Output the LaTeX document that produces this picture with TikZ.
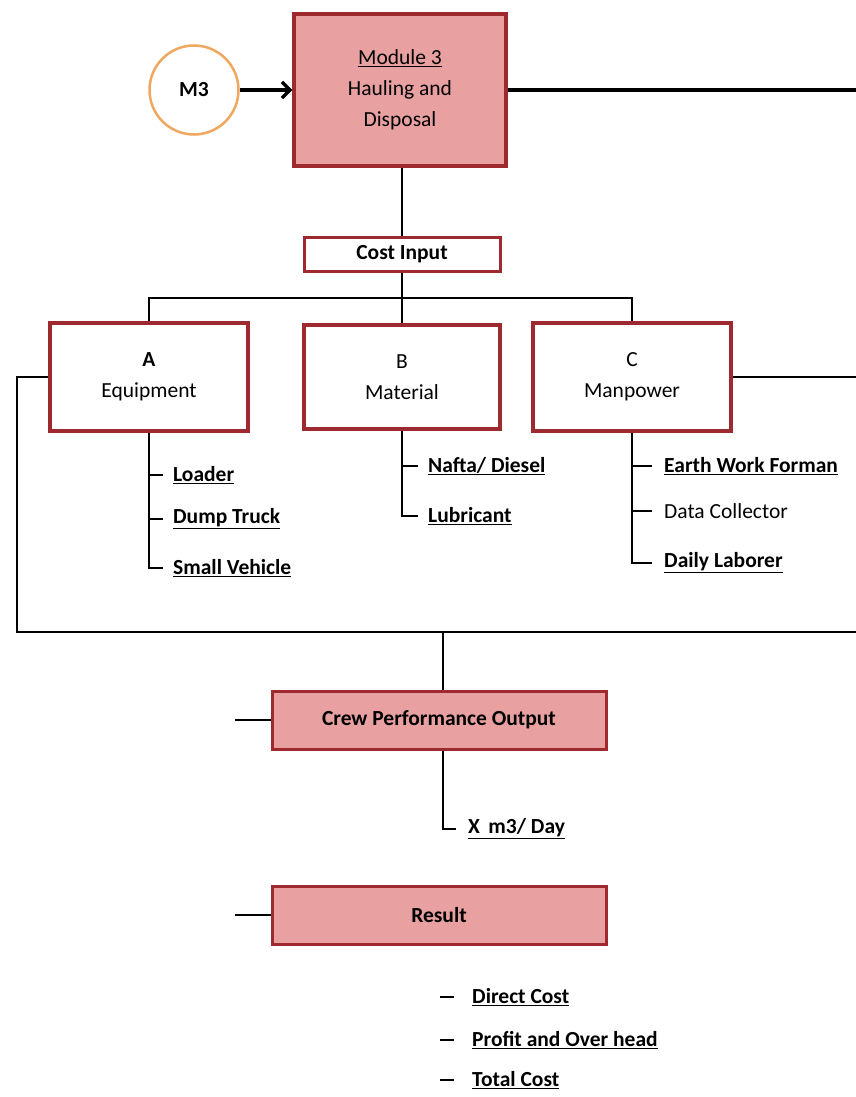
\documentclass[tikz,border=0pt]{standalone}
\usepackage{fontspec}
\setmainfont{Carlito}
\usetikzlibrary{arrows.meta,shapes.geometric}
\definecolor{boxfill}{HTML}{E8A0A0}
\definecolor{boxline}{HTML}{9E2A30}
\definecolor{circline}{HTML}{F0A860}
\newcommand{\fs}{\fontsize{21.5}{31}\selectfont}
\begin{document}
\begin{tikzpicture}[x=1pt,y=-1pt,
  redbox/.style={draw=boxline,line width=3.5pt,fill=boxfill,inner sep=0pt,align=center,font=\fs},
  whitebox/.style={draw=boxline,line width=3.5pt,fill=white,inner sep=0pt,align=center,font=\fs},
  item/.style={anchor=west,inner sep=0pt,font=\fs\bfseries},
  conn/.style={line width=1.3pt,draw=black},
]
\useasboundingbox (0,0) rectangle (856,1097);
\fill[white] (0,0) rectangle (856,1097);

% M3 circle
\node[draw=circline,line width=2.5pt,fill=white,circle,minimum size=89pt,inner sep=0pt,font=\fs\bfseries] (m3) at (194,90) {M3};
% Module 3
\node[redbox,minimum width=212pt,minimum height=152pt] (mod) at (400,90) {\underline{Module 3}\\Hauling and\\Disposal};
\draw[line width=3.2pt,-{Straight Barb[length=8pt,width=16pt]}] (m3) -- (mod);
\coordinate (topR) at (856,90);
\draw[line width=4pt] (mod.east) -- (topR);

% Cost input
\node[whitebox,line width=3pt,minimum width=196pt,minimum height=34pt,font=\fs\bfseries] (cost) at (402,254) {Cost Input};
\draw[conn] (mod.south -| cost.north) -- (cost.north);

% A B C
\node[whitebox,minimum width=198pt,minimum height=108pt] (A) at (149,377) {{\bfseries A}\\Equipment};
\node[whitebox,minimum width=196pt,minimum height=104pt] (B) at (402,377) {B\\Material};
\node[whitebox,minimum width=198pt,minimum height=108pt] (C) at (632,377) {C\\Manpower};
\coordinate (hbar) at (402,298);
\draw[conn] (cost.south) -- (hbar);
\draw[conn] (A.north) |- (hbar) -| (C.north);
\draw[conn] (hbar) -- (B.north);

% A items
\node[item] (a1) at (173,475) {\underline{Loader}};
\node[item] (a2) at (173,519) {\underline{Dump Truck}};
\node[item] (a3) at (173,568) {\underline{Small Vehicle}};
\draw[conn] (A.south) |- ([xshift=-10pt]a3.west);
\draw[conn] (A.south |- a1) -- ([xshift=-10pt]a1.west);
\draw[conn] (A.south |- a2) -- ([xshift=-10pt]a2.west);

% B items
\node[item] (b1) at (428,466) {\underline{Nafta/ Diesel}};
\node[item] (b2) at (428,516) {\underline{Lubricant}};
\draw[conn] (B.south) |- ([xshift=-10pt]b2.west);
\draw[conn] (B.south |- b1) -- ([xshift=-10pt]b1.west);

% C items
\node[item] (c1) at (664,466) {\underline{Earth Work Forman}};
\node[item,font=\fs] (c2) at (664,511) {Data Collector};
\node[item] (c3) at (664,563) {\underline{Daily Laborer}};
\draw[conn] (C.south) |- ([xshift=-12pt]c3.west);
\draw[conn] (C.south |- c1) -- ([xshift=-12pt]c1.west);
\draw[conn] (C.south |- c2) -- ([xshift=-12pt]c2.west);

% big loop
\coordinate (lt) at (17,377);
\coordinate (lb) at (17,632);
\coordinate (rb) at (856,632);
\coordinate (rr) at (856,377);
\coordinate (mid) at (443,632);
\draw[conn] (A.west) -- (lt) -- (lb) -- (rb);
\draw[conn] (C.east) -- (rr);

% Crew performance
\node[redbox,line width=3pt,minimum width=334pt,minimum height=58pt,font=\fs\bfseries] (crew) at (439,720) {Crew Performance Output};
\draw[conn] (mid) -- (mid |- crew.north);
\coordinate (crewstub) at (235,720);
\draw[conn] (crewstub) -- (crew.west);
\node[item] (x) at (468,829) {\underline{X\, m3/ Day}};
\draw[conn] (mid |- crew.south) |- ([xshift=-12pt]x.west);

% Result
\node[redbox,line width=3pt,minimum width=334pt,minimum height=58pt,font=\fs\bfseries] (res) at (439,915) {Result};
\coordinate (resstub) at (235,915);
\draw[conn] (resstub) -- (res.west);

% Result items
\node[item] (r1) at (472,997) {\underline{Direct Cost}};
\node[item] (r2) at (472,1040) {\underline{Profit and Over head}};
\node[item] (r3) at (472,1080) {\underline{Total Cost}};
\foreach \r in {r1,r2,r3}{
  \draw[conn] ([xshift=-32pt]\r.west) -- ([xshift=-18pt]\r.west);
}
\end{tikzpicture}
\end{document}
